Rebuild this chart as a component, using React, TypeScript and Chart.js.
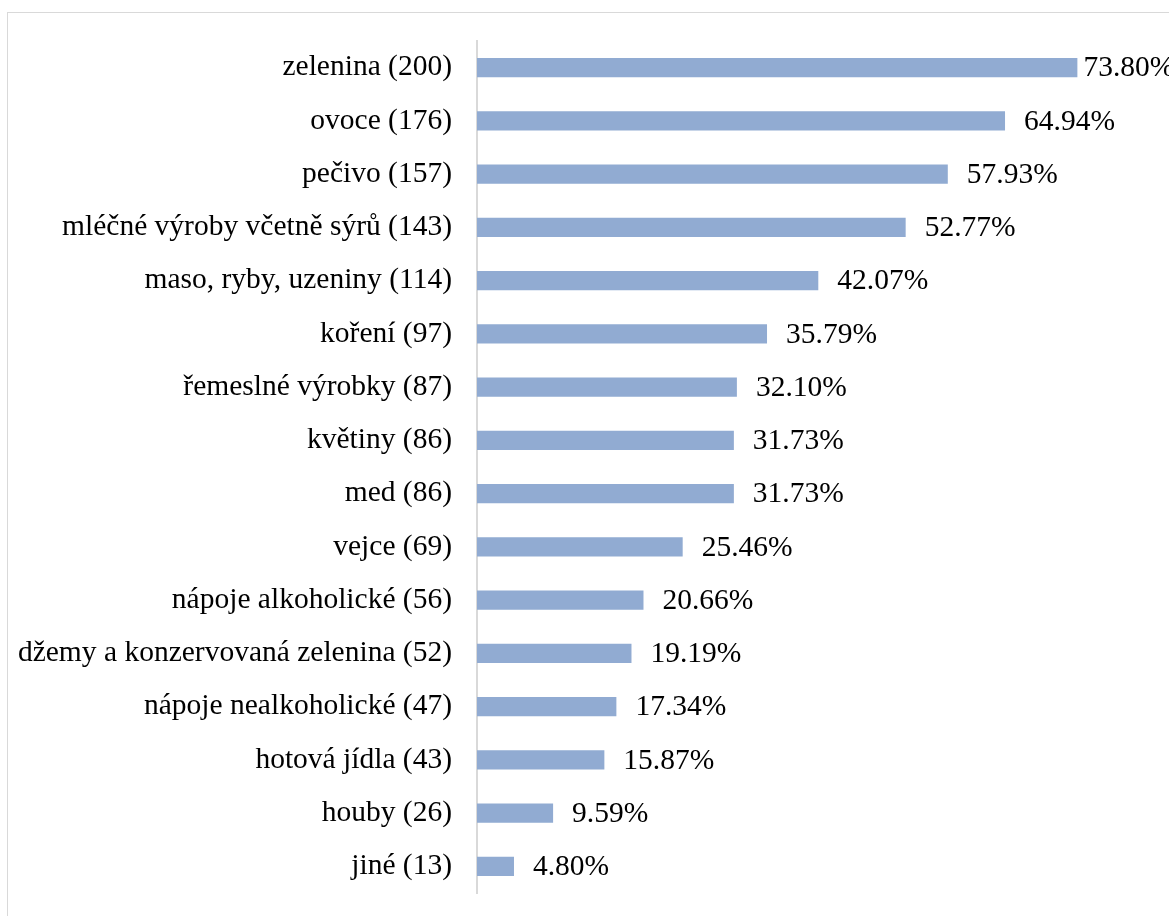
import React, { useEffect, useRef } from "react";
import { Chart, registerables } from "chart.js";

Chart.register(...registerables);

const categories = [
  "zelenina",
  "ovoce",
  "pečivo",
  "mléčné výroby včetně sýrů",
  "maso, ryby, uzeniny",
  "koření",
  "řemeslné výrobky",
  "květiny",
  "med",
  "vejce",
  "nápoje alkoholické",
  "džemy a konzervovaná zelenina",
  "nápoje nealkoholické",
  "hotová jídla",
  "houby",
  "jiné",
];
const counts = [200, 176, 157, 143, 114, 97, 87, 86, 86, 69, 56, 52, 47, 43, 26, 13];
const percents = [73.8, 64.94, 57.93, 52.77, 42.07, 35.79, 32.1, 31.73, 31.73, 25.46, 20.66, 19.19, 17.34, 15.87, 9.59, 4.8];

const FONT = '"Liberation Serif", "Times New Roman", serif';
const FONT_SIZE = 29.5;

export default function App() {
  const ref = useRef<HTMLCanvasElement | null>(null);

  useEffect(() => {
    document.body.style.margin = "0";
    const canvas = ref.current;
    if (!canvas) return;

    const labels = categories.map((c, i) => `${c} (${counts[i]})`);

    const overlay = {
      id: "overlay",
      beforeDraw(chart: any) {
        const ctx = chart.ctx;
        ctx.save();
        ctx.fillStyle = "#ffffff";
        ctx.fillRect(0, 0, chart.width, chart.height);
        ctx.strokeStyle = "#d9d9d9";
        ctx.lineWidth = 1;
        ctx.strokeRect(7.5, 12.5, chart.width + 20, chart.height + 20);
        ctx.restore();
      },
      afterDatasetsDraw(chart: any) {
        const ctx = chart.ctx;
        const meta = chart.getDatasetMeta(0);
        ctx.save();
        ctx.font = `${FONT_SIZE}px ${FONT}`;
        ctx.fillStyle = "#000000";
        ctx.textBaseline = "middle";
        ctx.textAlign = "left";
        meta.data.forEach((bar: any, i: number) => {
          const txt = percents[i].toFixed(2) + "%";
          const w = ctx.measureText(txt).width;
          let x = bar.x + 19;
          if (x + w > chart.width + 2) x = Math.max(bar.x + 6, chart.width + 2 - w);
          ctx.fillText(txt, x, bar.y + 1);
        });
        ctx.restore();
      },
    };

    const chart = new Chart(canvas, {
      type: "bar",
      data: {
        labels,
        datasets: [
          {
            data: percents,
            backgroundColor: "#91abd2",
            borderWidth: 0,
            barPercentage: 0.366,
            categoryPercentage: 1,
          },
        ],
      },
      options: {
        indexAxis: "y",
        responsive: false,
        animation: false,
        devicePixelRatio: 1,
        layout: { padding: { left: 0, right: 41, top: 41, bottom: 23 } },
        plugins: {
          legend: { display: false },
          tooltip: { enabled: false },
        },
        scales: {
          x: {
            display: false,
            min: 0.27,
            max: 80,
          },
          y: {
            grid: { display: false, drawTicks: false },
            border: { display: true, color: "#d9d9d9", width: 2 },
            ticks: {
              color: "#000000",
              padding: 25,
              font: { family: FONT, size: FONT_SIZE },
            },
            afterFit(scale: any) {
              scale.width = 477;
              scale.paddingTop = 0;
              scale.paddingBottom = 0;
            },
          },
        },
      },
      plugins: [overlay],
    });

    return () => chart.destroy();
  }, []);

  return <canvas ref={ref} width={1169} height={916} style={{ display: "block" }} />;
}
